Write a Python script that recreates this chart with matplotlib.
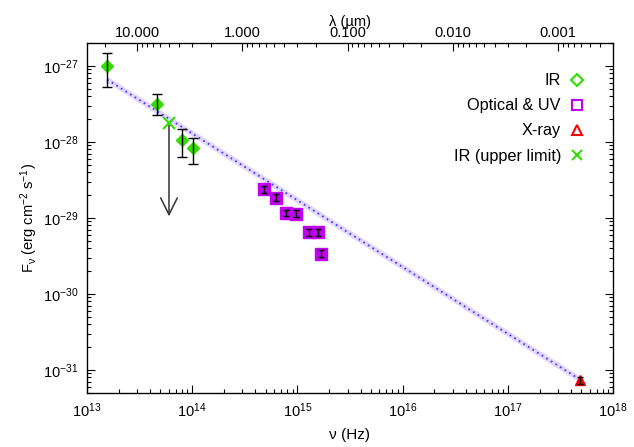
import matplotlib
matplotlib.use("Agg")
import matplotlib.pyplot as plt
from matplotlib.ticker import FixedLocator, FuncFormatter, LogLocator, NullFormatter

plt.rcParams["font.family"] = ["Liberation Sans", "DejaVu Sans"]
plt.rcParams["mathtext.fontset"] = "custom"
plt.rcParams["mathtext.rm"] = "Liberation Sans"
plt.rcParams["mathtext.it"] = "Liberation Sans:italic"
plt.rcParams["mathtext.default"] = "regular"

# %%
# Data read off the SED
# ~~~~~~~~~~~~~~~~~~~~~

ir_nu = [1.56e13, 4.6e13, 8.1e13, 1.03e14]
ir_f = [1.0e-27, 3.14e-28, 1.05e-28, 8.3e-29]
ir_lo = [5.2e-28, 2.24e-28, 6.4e-29, 5.1e-29]
ir_hi = [1.48e-27, 4.2e-28, 1.46e-28, 1.14e-28]

opt_nu = [4.82e14, 6.33e14, 7.84e14, 9.66e14, 1.29e15, 1.58e15, 1.69e15]
opt_f = [2.38e-29, 1.85e-29, 1.17e-29, 1.14e-29, 6.5e-30, 6.5e-30, 3.4e-30]
opt_err_frac = [0.1, 0.1, 0.1, 0.1, 0.1, 0.1, 0.1]

xray_nu = [4.84e17]
xray_f = [7.3e-32]
xray_err = [0.7e-32]

ul_nu = [6.03e13]
ul_f = [1.78e-28]
ul_arrow_end = [1.05e-29]

fit_nu = [1.56e13, 4.84e17]
fit_f = [6.6e-28, 7.5e-32]

c_um = 2.998e14  # speed of light in micron Hz

green = "#33dd00"
purple = "#c000f0"
red = "#ff0000"

# %%
# Plot
# ~~~~

fig = plt.figure(figsize=(6.34, 4.47), dpi=100)
fig.subplots_adjust(left=0.137, right=0.967, bottom=0.121, top=0.904)
ax = fig.add_subplot(111)

# power-law fit with glow
ax.plot(fit_nu, fit_f, color="#e2d8ff", lw=4, solid_capstyle="butt", zorder=1)
ax.plot(fit_nu, fit_f, color="#5533ff", lw=1.3, ls=(0, (1, 2)), zorder=2)

# IR points
ax.plot(ir_nu, ir_f, "D", color=green, ms=6, mec=green, zorder=3)
ax.errorbar(ir_nu, ir_f,
            yerr=[[f - l for f, l in zip(ir_f, ir_lo)], [h - f for f, h in zip(ir_f, ir_hi)]],
            fmt="none", ecolor="black", elinewidth=1, capsize=3.5, capthick=1, zorder=4)

# optical / UV points
opt_err = [f * e for f, e in zip(opt_f, opt_err_frac)]
ax.plot(opt_nu, opt_f, "s", color=purple, ms=8, mec=purple, zorder=3)
ax.errorbar(opt_nu, opt_f, yerr=opt_err, fmt="none", ecolor="black",
            elinewidth=1, capsize=2.5, capthick=1, zorder=4)

# X-ray point
ax.plot(xray_nu, xray_f, "^", color=red, ms=7, mec=red, zorder=3)
ax.errorbar(xray_nu, xray_f, yerr=xray_err, fmt="none", ecolor="black",
            elinewidth=1, capsize=2.5, capthick=1, zorder=4)

# IR upper limit
ax.plot(ul_nu, ul_f, "x", color=green, ms=8, mew=1.5, zorder=5)
for nu, f0, f1 in zip(ul_nu, ul_f, ul_arrow_end):
    ax.annotate("", xy=(nu, f1), xytext=(nu, f0),
                arrowprops=dict(arrowstyle="->,head_length=1.2,head_width=0.6",
                                color="#333333", lw=1.1, shrinkA=0, shrinkB=0),
                zorder=4)

ax.set_xscale("log")
ax.set_yscale("log")
ax.set_xlim(1e13, 1e18)
ax.set_ylim(5e-32, 2e-27)

ax.tick_params(which="both", direction="in", top=False, right=True, labelsize=10.5, width=0.8)
ax.tick_params(which="major", length=6, pad=6)
ax.tick_params(which="minor", length=3)
ax.xaxis.set_minor_locator(LogLocator(base=10, subs=range(2, 10), numticks=20))
ax.yaxis.set_minor_locator(LogLocator(base=10, subs=range(2, 10), numticks=20))
ax.xaxis.set_minor_formatter(NullFormatter())
ax.yaxis.set_minor_formatter(NullFormatter())

ax.set_xlabel("ν (Hz)", fontsize=11, labelpad=6)
ax.set_ylabel(r"F$_{\nu}$ (erg cm$^{-2}$ s$^{-1}$)", fontsize=10.5, labelpad=2)

for s in ax.spines.values():
    s.set_linewidth(0.9)

# top wavelength axis
ax2 = ax.twiny()
ax2.set_xscale("log")
ax2.set_xlim(c_um / 1e13, c_um / 1e18)
ax2.xaxis.set_major_locator(FixedLocator([10, 1, 0.1, 0.01, 0.001]))
ax2.xaxis.set_major_formatter(FuncFormatter(lambda v, p: f"{v:.3f}"))
ax2.xaxis.set_minor_locator(LogLocator(base=10, subs=range(2, 10), numticks=20))
ax2.xaxis.set_minor_formatter(NullFormatter())
ax2.tick_params(which="both", direction="in", labelsize=10.5, width=0.8)
ax2.tick_params(which="major", length=6, pad=2)
ax2.tick_params(which="minor", length=3)
ax2.set_xlabel("λ (µm)", fontsize=10.5, labelpad=0)

# legend with markers on the right
handles = [
    plt.Line2D([], [], ls="none", marker="D", ms=6, mfc="none", mec=green, mew=1.5),
    plt.Line2D([], [], ls="none", marker="s", ms=7, mfc="none", mec=purple, mew=1.5),
    plt.Line2D([], [], ls="none", marker="^", ms=7, mfc="none", mec=red, mew=1.5),
    plt.Line2D([], [], ls="none", marker="x", ms=7, color=green, mew=1.5),
]
labels = ["IR", "Optical & UV", "X-ray", "IR (upper limit)"]
ax.legend(handles, labels, loc="upper right", bbox_to_anchor=(0.975, 0.955),
          markerfirst=False, frameon=False, fontsize=11.7, handlelength=1.0,
          handletextpad=0.5, labelspacing=0.62)

fig.savefig("out.png", dpi=100)
